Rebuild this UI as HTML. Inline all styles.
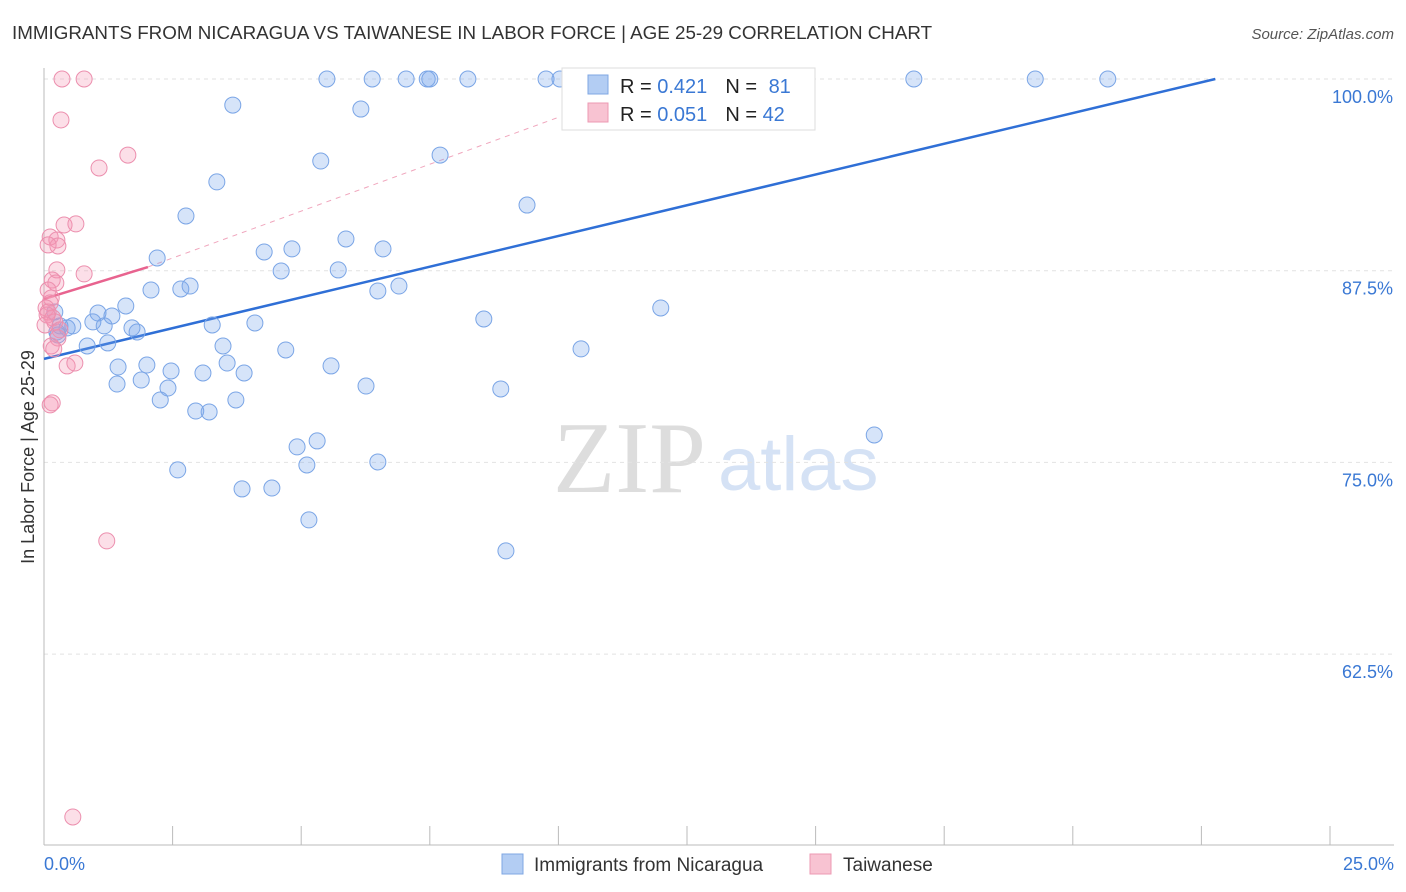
<!DOCTYPE html>
<html><head><meta charset="utf-8"><style>
body{margin:0;background:#fff;font-family:"Liberation Sans",sans-serif;}
</style></head><body>
<svg id="chart" width="1406" height="892" xmlns="http://www.w3.org/2000/svg" style="display:block">
<text x="12" y="39" font-size="18.8" fill="#333">IMMIGRANTS FROM NICARAGUA VS TAIWANESE IN LABOR FORCE | AGE 25-29 CORRELATION CHART</text>
<text x="1394" y="39" font-size="15" fill="#555" text-anchor="end" font-style="italic">Source: ZipAtlas.com</text>
<g>
<text x="553" y="492" font-size="102" fill="#ddd" font-family="Liberation Serif,serif">ZIP</text>
<text x="718" y="490" font-size="76" fill="#d5e2f5">atlas</text>
</g>
<g id="grid"></g>
<g id="axes"></g>
<g id="lines"></g>
<g id="pts"></g>
<text transform="translate(34,457) rotate(-90)" font-size="18" fill="#333" text-anchor="middle">In Labor Force | Age 25-29</text>
<g>
<rect x="562" y="68" width="253" height="62" fill="#fff" stroke="#ddd"/>
<rect x="588" y="75" width="20" height="19" fill="#b3cdf3" stroke="#7fa7e3"/>
<rect x="588" y="103" width="20" height="19" fill="#f8c3d2" stroke="#ec9ab3"/>
<text x="620" y="93" font-size="20" fill="#222">R = <tspan fill="#3a78d4">0.421</tspan><tspan dx="18">N = </tspan><tspan fill="#3a78d4" dx="6">81</tspan></text>
<text x="620" y="121" font-size="20" fill="#222">R = <tspan fill="#3a78d4">0.051</tspan><tspan dx="18">N = </tspan><tspan fill="#3a78d4">42</tspan></text>
</g>
<g>
<rect x="502" y="854" width="21" height="20" fill="#b3cdf3" stroke="#7fa7e3"/>
<text x="534" y="871" font-size="19" fill="#333">Immigrants from Nicaragua</text>
<rect x="810" y="854" width="21" height="20" fill="#f8c3d2" stroke="#ec9ab3"/>
<text x="843" y="871" font-size="19" fill="#333">Taiwanese</text>
</g>
</svg>
<script>
const xTicks=[0,2.5,5,7.5,10,12.5,15,17.5,20,22.5,25];
const yTicks=[62.5,75,87.5,100];
const yTickLabels=["62.5%","75.0%","87.5%","100.0%"];
const blueX=[5.50,6.38,7.04,7.45,7.50,8.24,9.76,10.03,16.91,19.27,20.68,3.67,6.16,5.38,7.70,3.36,9.39,2.76,2.20,5.87,4.82,4.28,6.59,4.61,5.72,2.08,2.66,2.84,6.49,6.90,11.99,1.59,1.05,1.32,0.95,0.56,1.17,0.31,0.25,0.45,0.21,1.71,1.81,3.27,4.10,8.55,0.84,1.24,1.44,2.00,2.47,3.48,3.56,3.09,3.89,4.70,5.58,10.44,1.42,1.89,2.41,2.26,3.73,2.95,3.21,6.26,8.88,4.92,5.31,5.11,6.49,16.14,2.60,3.85,4.43,5.15,8.98,0.27];
const blueY=[100,100,100,100,100,100,100,100,100,100,100,98.30,98.04,94.65,95.04,93.29,91.78,91.07,88.33,89.57,88.92,88.72,88.92,87.48,87.55,86.24,86.31,86.50,86.18,86.50,85.07,85.20,84.74,84.55,84.16,83.90,83.90,83.90,83.50,83.77,84.81,83.77,83.50,83.96,84.09,84.35,82.59,82.79,81.22,81.35,80.96,82.59,81.48,80.83,80.83,82.33,81.29,82.40,80.11,80.37,79.85,79.07,79.07,78.35,78.29,79.98,79.79,76.01,76.40,74.83,75.03,76.79,74.51,73.27,73.33,71.25,69.23,83.31];
const pinkX=[0.35,0.78,0.33,1.63,1.07,0.39,0.62,0.12,0.25,0.27,0.08,0.78,0.25,0.16,0.23,0.08,0.14,0.12,0.04,0.08,0.17,0.21,0.31,0.27,0.14,0.19,0.45,0.60,0.16,0.12,1.22,0.56,0.06,0.02];
const pinkY=[100,100,97.33,95.04,94.20,90.48,90.55,89.70,89.50,89.11,89.18,87.29,87.55,86.89,86.70,86.24,85.72,85.40,85.07,84.81,84.42,84.16,83.64,83.11,82.59,82.40,81.29,81.48,78.88,78.75,69.88,51.88,84.61,83.96];
const blueFit=[0,81.75,22.77,100];
const pinkFit=[0,85.66,2.02,87.74];
const pinkDash=[2.02,87.74,10.0,97.5];
const NS="http://www.w3.org/2000/svg";
const X=v=>44+v/25*1286, Y=v=>79+(100-v)/12.5*191.7;
function mk(t,a,p){const e=document.createElementNS(NS,t);for(const k in a)e.setAttribute(k,a[k]);document.getElementById(p).appendChild(e);return e;}
yTicks.forEach((t,i)=>{
 const l=mk('line',{x1:44,x2:1394,y1:Y(t),y2:Y(t),stroke:'#e2e2e2','stroke-dasharray':'4,4'},'grid');
 
 
 const tx=mk('text',{x:1393,y:Y(t)+24,'font-size':18,fill:'#3a78d4','text-anchor':'end'},'grid');
 tx.textContent=yTickLabels[i];
 
 
});
const ax=mk('line',{x1:44,x2:44,y1:68,y2:845,stroke:'#bbb'},'axes');


const bx=mk('line',{x1:44,x2:1394,y1:845,y2:845,stroke:'#bbb'},'axes');


xTicks.slice(1).forEach(t=>{
 const l=mk('line',{x1:X(t),x2:X(t),y1:826,y2:845,stroke:'#bbb'},'axes');
 
 
});
const x0=mk('text',{x:44,y:870,'font-size':18,fill:'#3a78d4'},'axes');x0.textContent='0.0%';


const x1=mk('text',{x:1394,y:870,'font-size':18,fill:'#3a78d4','text-anchor':'end'},'axes');x1.textContent='25.0%';


blueX.forEach((v,i)=>{
 const c=mk('circle',{cx:X(v),cy:Y(blueY[i]),r:8,fill:'rgba(120,165,235,0.3)',stroke:'#7aa5e6','stroke-width':1},'pts');
 
 
});
pinkX.forEach((v,i)=>{
 const c=mk('circle',{cx:X(v),cy:Y(pinkY[i]),r:8,fill:'rgba(245,150,180,0.3)',stroke:'#ec8fae','stroke-width':1},'pts');
 
 
});
const bl=mk('line',{x1:X(blueFit[0]),y1:Y(blueFit[1]),x2:X(blueFit[2]),y2:Y(blueFit[3]),stroke:'#2f6fd6','stroke-width':2.5},'lines');


const pd=mk('line',{x1:X(pinkDash[0]),y1:Y(pinkDash[1]),x2:X(pinkDash[2]),y2:Y(pinkDash[3]),stroke:'#f0a6bd','stroke-width':1,'stroke-dasharray':'5,5'},'lines');


const pl=mk('line',{x1:X(pinkFit[0]),y1:Y(pinkFit[1]),x2:X(pinkFit[2]),y2:Y(pinkFit[3]),stroke:'#e8638f','stroke-width':2.5},'lines');


</script>
</body></html>
